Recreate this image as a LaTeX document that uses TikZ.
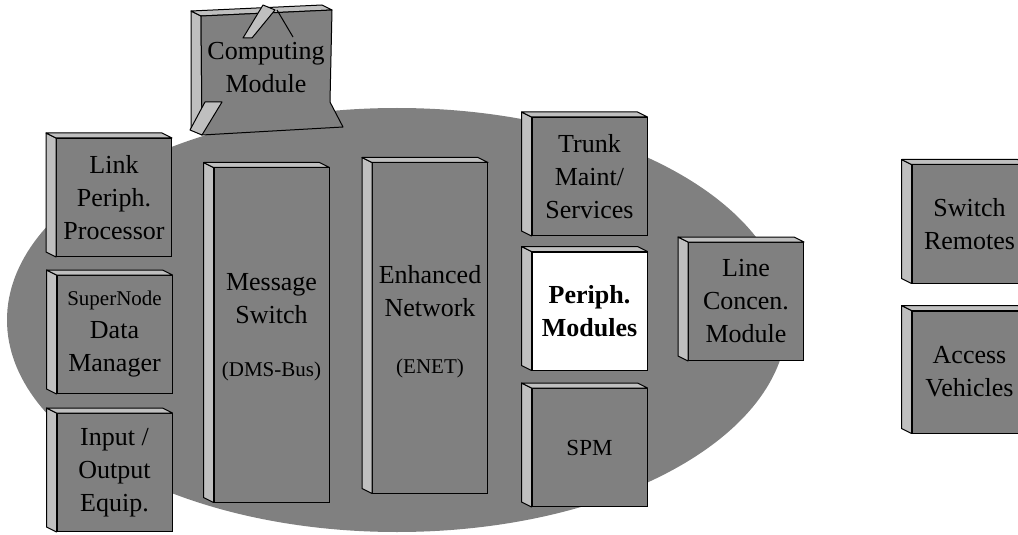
\documentclass[tikz,border=0pt]{standalone}
\usepackage{fontspec}
\setmainfont{Liberation Serif}
\colorlet{faceGray}{black!50}
\colorlet{sideGray}{black!25}
\tikzset{
  boxtext/.style={align=center, inner sep=0pt, font=\fontsize{13}{16.5}\selectfont},
  slab/.style={boxtext, draw, fill=faceGray, line width=0.5pt,
    minimum width=57.5pt, minimum height=59pt},
  side/.style={draw, fill=sideGray, line width=0.5pt, line join=round},
}
\newcommand{\smalltext}{\fontsize{10.5}{13}\selectfont}

\begin{document}
\begin{tikzpicture}[x=0.5pt,y=-0.5pt]
\useasboundingbox (0,0) rectangle (1018,535);
\clip (0,0) rectangle (1018,535);
% the switch office
\fill[faceGray] (397,320) ellipse [x radius=390, y radius=212];

% computing module
\filldraw[side] (201,16) -- (191,11) -- (191,129) -- (202,135) -- cycle;
\filldraw[side] (201,16) -- (191,11) -- (322,5) -- (332,10) -- cycle;
\filldraw[draw, fill=faceGray, line width=0.5pt, line join=round] (201,16) -- (332,10) -- (330,102) -- (343,127) -- (202,135) -- cycle;
\filldraw[side] (263,5) -- (275,10) -- (252,38) -- (243,38) -- cycle;
\draw[line width=0.5pt] (277,10) -- (293,37);
\filldraw[side] (205,102) -- (222,102) -- (202,135) -- (190,130) -- cycle;
\node[boxtext] (cm) at (266,68) {Computing\\Module};

% left column
\node[slab] (lpp) at (114,197.5) {Link\\Periph.\\Processor};
\node[slab] (sdm) at (114.5,334.5) {{\smalltext SuperNode}\\Data\\Manager};
\node[slab] (ioe) at (114.5,472.5) {Input /\\Output\\Equip.};

% core
\node[slab, minimum height=167pt] (ms) at (271.5,335) {};
\node[boxtext] (mstext) at ([yshift=4pt]ms.center) {Message\\Switch\\[10pt]{\smalltext (DMS-Bus)}};
\node[slab, minimum height=165pt] (en) at (430,328) {};
\node[boxtext] (entext) at ([yshift=3pt]en.center) {Enhanced\\Network\\[12pt]{\smalltext (ENET)}};

% peripherals
\node[slab] (tms) at (589.5,176.5) {Trunk\\Maint/\\Services};
\node[slab, fill=white, font=\fontsize{13}{16.5}\selectfont\bfseries] (pm) at (589.5,311) {Periph.\\Modules};
\node[slab, font=\fontsize{11.5}{14}\selectfont] (spm) at (589.5,447.5) {SPM};
\node[slab] (lcm) at (746,301.5) {Line\\Concen.\\Module};

% remotes
\node[slab] (sr) at (969.5,224) {Switch\\Remotes};
\node[slab, minimum height=61pt] (av) at (969.5,372) {Access\\Vehicles};

% side and top of every slab
\foreach \n in {lpp,sdm,ioe,ms,en,tms,pm,spm,lcm,sr,av} {
  \filldraw[side] (\n.north west) -- ([shift={(-10,-5)}]\n.north west)
    -- ([shift={(-10,-5)}]\n.south west) -- (\n.south west) -- cycle;
  \filldraw[side] (\n.north west) -- ([shift={(-10,-5)}]\n.north west)
    -- ([shift={(-10,-5)}]\n.north east) -- (\n.north east) -- cycle;
}
\end{tikzpicture}
\end{document}
